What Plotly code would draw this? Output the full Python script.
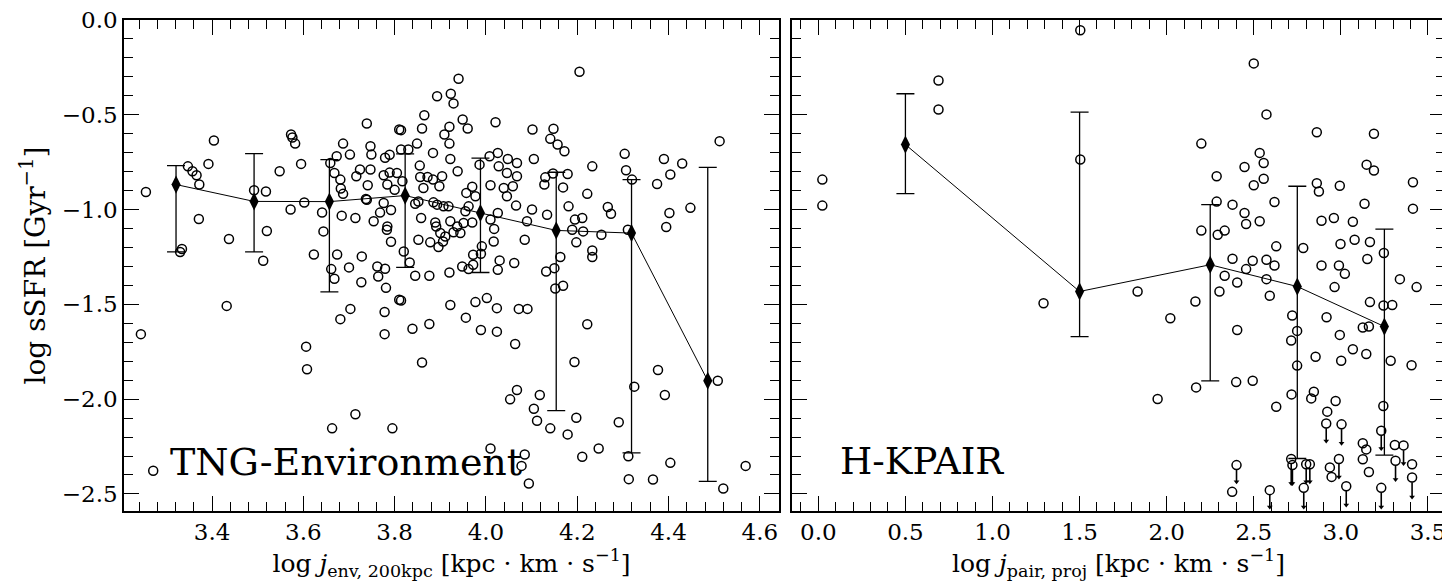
import plotly.graph_objects as go

# TNG-Environment scatter (left panel)
tng_x = [3.244, 3.255, 3.271, 3.347, 3.357, 3.366, 3.372, 3.392, 3.404, 3.371, 3.334, 3.330, 3.437,
         3.492, 3.518, 3.512, 3.520, 3.548, 3.573, 3.576, 3.582, 3.595, 3.572, 3.602, 3.641, 3.644,
         3.623, 3.674, 3.661, 3.668, 3.700, 3.728, 3.727, 3.762, 3.764, 3.781, 3.684, 3.714, 3.739,
         3.810, 3.687, 3.702, 3.747, 3.749, 3.659, 3.673, 3.668, 3.681, 3.682, 3.687, 3.716, 3.724,
         3.747, 3.741, 3.779, 3.789, 3.776, 3.789, 3.784, 3.800, 3.737, 3.739, 3.776, 3.768, 3.792,
         3.754, 3.784, 3.783, 3.792, 3.432, 3.606, 3.608, 3.663, 3.714, 3.795, 3.681, 3.703, 3.778,
         3.778, 3.810, 3.940, 3.893, 3.923, 3.929, 3.865, 3.949, 3.960, 4.021, 3.860, 3.814, 3.920,
         3.909, 3.920, 3.849, 3.884, 3.814, 3.830, 3.805, 3.817, 3.855, 3.856, 3.872, 3.884, 3.904,
         3.898, 3.863, 3.922, 3.938, 3.986, 4.008, 4.026, 4.048, 4.068, 4.028, 4.046, 4.068, 4.010,
         4.039, 4.059, 4.046, 4.066, 3.970, 3.957, 3.977, 3.962, 3.955, 3.845, 3.852, 3.885, 3.893,
         3.907, 3.918, 3.858, 3.889, 3.891, 3.922, 3.937, 3.951, 3.970, 3.929, 3.944, 3.900, 3.911,
         3.852, 3.878, 3.906, 3.896, 4.010, 4.026, 4.018, 4.017, 3.991, 3.972, 3.820, 3.779, 3.814,
         3.839, 3.876, 3.860, 3.833, 3.845, 3.876, 3.920, 3.948, 3.972, 3.989, 3.962, 4.030, 4.026,
         4.062, 3.922, 3.977, 4.002, 4.024, 4.072, 3.956, 3.989, 4.024, 4.064, 4.053, 4.068, 4.205,
         4.102, 4.148, 4.141, 4.157, 4.172, 4.105, 4.130, 4.147, 4.179, 4.128, 4.169, 4.233, 4.222,
         4.181, 4.134, 4.195, 4.211, 4.189, 4.213, 4.198, 4.253, 4.267, 4.274, 4.163, 4.233, 4.233,
         4.132, 4.150, 4.169, 4.152, 4.304, 4.307, 4.320, 4.311, 4.390, 4.430, 4.404, 4.375, 4.402,
         4.448, 4.395, 4.512, 4.085, 4.090, 4.101, 4.091, 4.222, 4.194, 4.118, 4.105, 4.112, 4.141,
         4.179, 4.198, 4.010, 4.085, 4.078, 4.094, 4.211, 4.247, 4.291, 4.312, 4.313, 4.325, 4.377,
         4.392, 4.366, 4.404, 4.508, 4.520, 4.569]
tng_y = [-1.657, -0.907, -2.378, -0.772, -0.798, -0.819, -0.868, -0.759, -0.636, -1.050, -1.208, -1.224, -1.155,
         -0.898, -0.905, -1.270, -1.113, -0.798, -0.604, -0.620, -0.652, -0.759, -1.000, -0.963, -1.015, -1.115,
         -1.237, -1.237, -1.314, -1.365, -1.305, -1.247, -1.383, -1.300, -1.353, -1.413, -1.032, -1.044, -0.546,
         -0.578, -0.652, -0.710, -0.666, -0.710, -0.754, -0.719, -0.807, -0.842, -0.889, -0.917, -0.824, -0.789,
         -0.789, -0.872, -0.727, -0.711, -0.819, -0.805, -0.868, -0.896, -0.944, -0.948, -0.965, -1.016, -1.002,
         -1.062, -1.089, -1.106, -1.170, -1.508, -1.723, -1.842, -2.154, -2.080, -2.154, -1.578, -1.524, -1.540,
         -1.657, -1.476, -0.310, -0.402, -0.389, -0.440, -0.502, -0.525, -0.572, -0.539, -0.572, -0.581, -0.563,
         -0.604, -0.652, -0.652, -0.701, -0.683, -0.683, -0.807, -0.851, -0.768, -0.828, -0.828, -0.842, -0.824,
         -0.877, -0.886, -0.733, -0.798, -0.763, -0.719, -0.701, -0.733, -0.754, -0.772, -0.807, -0.824, -0.872,
         -0.886, -0.877, -0.930, -0.979, -0.880, -0.912, -0.930, -0.983, -1.009, -0.969, -0.957, -0.962, -0.974,
         -0.983, -0.983, -1.044, -1.068, -1.089, -1.062, -1.089, -1.071, -1.068, -1.120, -1.124, -1.124, -1.142,
         -1.159, -1.173, -1.168, -1.198, -1.053, -1.018, -1.102, -1.168, -1.194, -1.238, -1.221, -1.312, -1.480,
         -1.629, -1.604, -1.807, -1.279, -1.349, -1.349, -1.332, -1.300, -1.291, -1.233, -1.314, -1.268, -1.318,
         -1.282, -1.503, -1.488, -1.467, -1.520, -1.524, -1.570, -1.635, -1.644, -1.709, -2.001, -1.952, -0.273,
         -0.578, -0.574, -0.627, -0.657, -0.692, -0.733, -0.830, -0.810, -0.812, -0.868, -0.883, -0.772, -0.917,
         -0.983, -1.027, -1.053, -1.044, -1.106, -1.115, -1.173, -1.133, -0.986, -1.022, -1.250, -1.216, -1.250,
         -1.327, -1.309, -1.402, -1.416, -0.706, -0.793, -0.842, -1.106, -0.733, -0.757, -0.815, -0.865, -1.018,
         -0.991, -1.092, -0.639, -1.159, -1.062, -1.000, -1.524, -1.605, -1.804, -1.978, -2.051, -2.114, -2.154,
         -2.186, -2.098, -2.260, -2.292, -2.352, -2.445, -2.304, -2.260, -2.122, -2.301, -2.422, -1.934, -1.846,
         -1.978, -2.424, -2.336, -1.903, -2.471, -2.352]

# TNG binned medians with error bar limits
tng_bin_x = [3.321, 3.492, 3.657, 3.823, 3.988, 4.154, 4.319, 4.486]
tng_bin_y = [-0.868, -0.957, -0.958, -0.926, -1.018, -1.110, -1.124, -1.903]
tng_bin_hi = [-0.768, -0.705, -0.736, -0.706, -0.729, -0.803, -0.842, -0.777]
tng_bin_lo = [-1.223, -1.223, -1.434, -1.305, -1.332, -2.061, -2.283, -2.434]

# H-KPAIR detections (right panel)
hk_x = [0.023, 0.023, 0.690, 0.690, 1.504, 1.504, 1.293,
        2.500, 2.573, 2.199, 2.862, 3.190, 2.534, 2.557, 2.447, 2.557, 2.500, 2.287, 3.148, 3.190,
        3.414, 3.414, 2.862, 2.874, 2.994, 2.619, 2.287, 2.378, 2.447, 2.456, 2.534, 3.136, 2.889,
        2.960, 3.069, 2.199, 2.293, 2.333, 2.629, 2.784, 2.998, 3.079, 3.167, 3.247, 3.339, 3.435,
        2.378, 2.494, 2.573, 2.619, 2.456, 2.333, 2.405, 2.573, 2.889, 2.989, 3.023, 3.152, 2.964,
        1.833, 2.303, 2.592, 2.165, 2.021, 2.721, 2.749, 2.715, 2.405, 2.918, 3.167, 3.245, 3.295,
        3.126, 3.161, 2.994, 3.069, 3.146, 2.855, 3.002, 3.286, 3.406, 2.749, 1.948, 2.169, 2.399,
        2.494, 2.717, 2.845, 2.830, 2.629, 2.970, 2.922, 3.244, 3.126, 3.146, 3.126, 3.161, 3.310,
        3.409, 2.937, 2.947, 2.376]
hk_y = [-0.842, -0.979, -0.319, -0.472, -0.054, -0.736, -1.494,
        -0.229, -0.498, -0.652, -0.592, -0.600, -0.701, -0.754, -0.775, -0.837, -0.872, -0.824, -0.763, -0.794,
        -0.856, -0.995, -0.861, -0.905, -0.874, -0.960, -0.958, -0.974, -1.018, -1.076, -1.062, -0.969, -1.059,
        -1.044, -1.064, -1.111, -1.133, -1.111, -1.194, -1.203, -1.182, -1.159, -1.171, -1.229, -1.367, -1.409,
        -1.259, -1.270, -1.265, -1.295, -1.314, -1.349, -1.385, -1.367, -1.295, -1.295, -1.339, -1.261, -1.409,
        -1.432, -1.432, -1.455, -1.485, -1.573, -1.559, -1.640, -1.691, -1.635, -1.568, -1.488, -1.506, -1.503,
        -1.622, -1.617, -1.661, -1.737, -1.762, -1.776, -1.797, -1.797, -1.821, -1.823, -1.999, -1.938, -1.910,
        -1.903, -1.975, -1.961, -1.996, -2.040, -2.010, -2.066, -2.036, -2.233, -2.265, -2.317, -2.384, -2.242,
        -2.343, -2.360, -2.410, -2.489]

# H-KPAIR upper limits: x, value, arrow tip
lim_x = [2.401, 2.592, 2.715, 2.722, 2.787, 2.801, 2.822, 2.916, 3.004, 2.989, 3.031, 3.232, 3.232, 3.314, 3.360, 3.409]
lim_y = [-2.348, -2.480, -2.316, -2.348, -2.468, -2.343, -2.343, -2.128, -2.133, -2.316, -2.459, -2.167, -2.468, -2.325, -2.244, -2.413]
lim_tip = [-2.436, -2.569, -2.445, -2.445, -2.569, -2.436, -2.436, -2.221, -2.233, -2.410, -2.559, -2.260, -2.569, -2.424, -2.339, -2.516]

hk_bin_x = [0.5, 1.5, 2.25, 2.75, 3.25]
hk_bin_y = [-0.657, -1.432, -1.291, -1.406, -1.617]
hk_bin_hi = [-0.389, -0.486, -0.974, -0.877, -1.103]
hk_bin_lo = [-0.916, -1.670, -1.904, -2.313, -2.295]

FONT = 'DejaVu Serif'
open_marker = dict(symbol='circle-open', size=9, color='black', line=dict(width=1.5, color='black'))


def bin_trace(xs, ys, hi, lo, xaxis, yaxis):
    return go.Scatter(
        x=xs, y=ys, mode='lines+markers', xaxis=xaxis, yaxis=yaxis,
        line=dict(color='black', width=1),
        marker=dict(symbol='diamond-tall', size=13, color='black'),
        error_y=dict(type='data', symmetric=False,
                     array=[h - m for h, m in zip(hi, ys)],
                     arrayminus=[m - l for m, l in zip(ys, lo)],
                     color='black', thickness=1.3, width=9),
        showlegend=False)


fig = go.Figure()
fig.add_trace(go.Scatter(x=tng_x, y=tng_y, mode='markers', marker=open_marker,
                         xaxis='x', yaxis='y', showlegend=False))
fig.add_trace(bin_trace(tng_bin_x, tng_bin_y, tng_bin_hi, tng_bin_lo, 'x', 'y'))

# upper-limit arrows: a shaft from each point down to its tip, plus a small head
shaft_x, shaft_y = [], []
for lx, ly, lt in zip(lim_x, lim_y, lim_tip):
    shaft_x += [lx, lx, None]
    shaft_y += [ly - 0.025, lt, None]
fig.add_trace(go.Scatter(x=shaft_x, y=shaft_y, mode='lines', line=dict(color='black', width=1.6),
                         xaxis='x2', yaxis='y2', showlegend=False))
fig.add_trace(go.Scatter(x=lim_x, y=lim_tip, mode='markers',
                         marker=dict(symbol='triangle-down', size=5, color='black'),
                         xaxis='x2', yaxis='y2', showlegend=False))
fig.add_trace(go.Scatter(x=hk_x + lim_x, y=hk_y + lim_y, mode='markers', marker=open_marker,
                         xaxis='x2', yaxis='y2', showlegend=False))
fig.add_trace(bin_trace(hk_bin_x, hk_bin_y, hk_bin_hi, hk_bin_lo, 'x2', 'y2'))

annotations = [
    dict(text='TNG-Environment', x=0.067, y=0.10, xref='x domain', yref='y domain',
         xanchor='left', yanchor='middle', showarrow=False,
         font=dict(family=FONT, size=38, color='black')),
    dict(text='H-KPAIR', x=0.07, y=0.10, xref='x2 domain', yref='y2 domain',
         xanchor='left', yanchor='middle', showarrow=False,
         font=dict(family=FONT, size=37, color='black')),
]

minor_common = dict(ticks='inside', ticklen=9, tickwidth=1.2, tickcolor='black', showgrid=False)
axis_common = dict(showline=True, linecolor='black', linewidth=1.6, mirror='allticks',
                   ticks='inside', ticklen=15, tickwidth=1.4, tickcolor='black',
                   showgrid=False, zeroline=False, automargin=False, ticklabeloverflow='allow',
                   tickfont=dict(family=FONT, size=23, color='black'))

# the page body keeps an 8px margin, so the figure is 8px smaller than the window
fig.update_layout(
    width=1442, height=577,
    margin=dict(l=116, r=5, t=12, b=74),
    paper_bgcolor='white', plot_bgcolor='white',
    xaxis=dict(axis_common, domain=[0, 0.4958], range=[3.207, 4.642], dtick=0.2, tick0=0,
               tickformat='.1f', minor=dict(minor_common, dtick=0.04),
               title=dict(text='log <i>j</i><sub>env, 200kpc</sub> [kpc · km · s<sup>−1</sup>]',
                          font=dict(family=FONT, size=25, color='black'), standoff=4)),
    xaxis2=dict(axis_common, domain=[0.5057, 1], range=[-0.151, 3.598], dtick=0.5, tick0=0,
                tickformat='.1f', minor=dict(minor_common, dtick=0.1),
                title=dict(text='log <i>j</i><sub>pair, proj</sub> [kpc · km · s<sup>−1</sup>]',
                           font=dict(family=FONT, size=25, color='black'), standoff=4)),
    yaxis=dict(axis_common, range=[-2.59, 0.0], dtick=0.5, tick0=0, tickformat='.1f',
               minor=dict(minor_common, dtick=0.1),
               title=dict(text='log sSFR [Gyr<sup>−1</sup>]',
                          font=dict(family=FONT, size=28, color='black'), standoff=8)),
    yaxis2=dict(axis_common, anchor='x2', range=[-2.59, 0.0], dtick=0.5, tick0=0, showticklabels=False,
                minor=dict(minor_common, dtick=0.1)),
    annotations=annotations,
)

fig.write_html('out.html')
